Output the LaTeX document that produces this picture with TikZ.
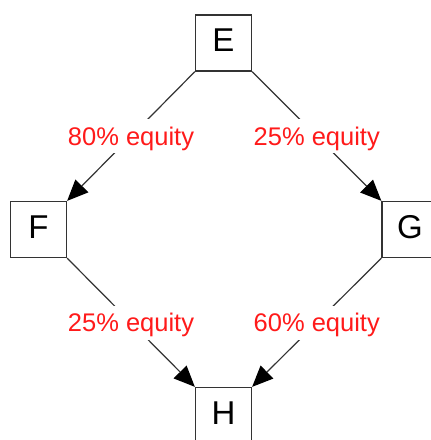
\documentclass[tikz,border=0pt]{standalone}
\usepackage{fontspec}
\setmainfont{Liberation Sans}
\usetikzlibrary{arrows.meta}
\definecolor{lblred}{HTML}{FF1A1A}
\definecolor{lngray}{HTML}{333333}
\begin{document}
\begin{tikzpicture}[x=1pt,y=-1pt,
  box/.style={draw=lngray, line width=1.3pt, minimum width=56pt, minimum height=56pt,
    inner sep=0pt, font=\fontsize{33}{33}\selectfont, text depth=5pt},
  lbl/.style={text=lblred, fill=white, font=\fontsize{25.5}{25.5}\selectfont,
    inner xsep=3pt, minimum height=34pt, text height=18.3pt, text depth=0pt},
  conn/.style={draw=lngray, line width=1.2pt, -{Triangle[length=21pt,width=18pt,black]}}]
\useasboundingbox (0,0) rectangle (431,440);
\node[box] (E) at (223.5,43) {E};
\node[box] (F) at (38.5,229.5) {F};
\node[box] (G) at (410,229.5) {G};
\node[box] (H) at (223.5,415.5) {H};
\draw[conn] (E.south west) -- node[lbl] {80\% equity} (F.north east);
\draw[conn] (E.south east) -- node[lbl] {25\% equity} (G.north west);
\draw[conn] (F.south east) -- node[lbl] {25\% equity} (H.north west);
\draw[conn] (G.south west) -- node[lbl] {60\% equity} (H.north east);
\end{tikzpicture}
\end{document}
